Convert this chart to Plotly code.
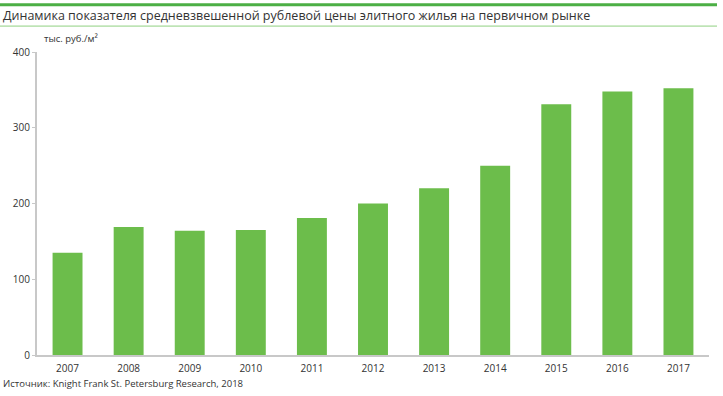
import plotly.graph_objects as go

years = ["2007", "2008", "2009", "2010", "2011", "2012", "2013", "2014", "2015", "2016", "2017"]
prices = [135, 169, 164, 165, 181, 200, 220, 250, 331, 348, 352]
y_ticks = [0, 100, 200, 300, 400]

title_text = "Динамика показателя средневзвешенной рублевой цены элитного жилья на первичном рынке"
unit_text = "тыс. руб./м²"
source_text = "Источник: Knight Frank St. Petersburg Research, 2018"

W, H = 723, 396
L, R, T, B = 37, 14, 51.5, 40.5
pw = W - L - R
ph = H - T - B

def px(x):
    return (x - L) / pw

def py(y):
    return (H - B - y) / ph

font_family = "Open Sans, Noto Sans, sans-serif"

fig = go.Figure(go.Bar(x=years, y=prices, marker=dict(color="#6cbd4b", line=dict(width=0)),
                       width=0.49, hoverinfo="x+y"))

fig.update_layout(
    width=W, height=H,
    margin=dict(l=L, r=R, t=T, b=B),
    paper_bgcolor="white", plot_bgcolor="white",
    font=dict(family=font_family, color="#333333", size=10),
    showlegend=False,
    bargap=0.51,
    xaxis=dict(showline=True, linecolor="#c8c8c8", linewidth=2, ticks="", ticklabelstandoff=3,
               tickfont=dict(size=10, color="#333333"), showgrid=False, fixedrange=True),
    yaxis=dict(range=[0, 400], tickvals=y_ticks, showline=True, linecolor="#c8c8c8", linewidth=2,
               ticks="outside", ticklen=3, tickcolor="#c8c8c8", showgrid=False, zeroline=False,
               tickfont=dict(size=10, color="#333333"), fixedrange=True),
    shapes=[
        dict(type="line", xref="paper", yref="paper", x0=px(0), x1=px(717), y0=py(4), y1=py(4),
             line=dict(color="#4caf45", width=3)),
        dict(type="line", xref="paper", yref="paper", x0=px(0), x1=px(717), y0=py(25.5), y1=py(25.5),
             line=dict(color="#8fd080", width=1)),
    ],
    annotations=[
        dict(text=title_text, xref="paper", yref="paper", x=px(1), y=py(15), xanchor="left",
             yanchor="middle", showarrow=False, font=dict(size=12.5, color="#333333")),
        dict(text=unit_text, xref="paper", yref="paper", x=px(42), y=py(38), xanchor="left",
             yanchor="middle", showarrow=False, font=dict(size=9.5, color="#333333")),
        dict(text=source_text, xref="paper", yref="paper", x=px(1), y=py(384), xanchor="left",
             yanchor="middle", showarrow=False, font=dict(size=9.5, color="#333333")),
    ],
)

fig.write_html("out.html", config={"displayModeBar": False},
               post_script="document.body.style.margin='0';document.body.style.padding='0';")
